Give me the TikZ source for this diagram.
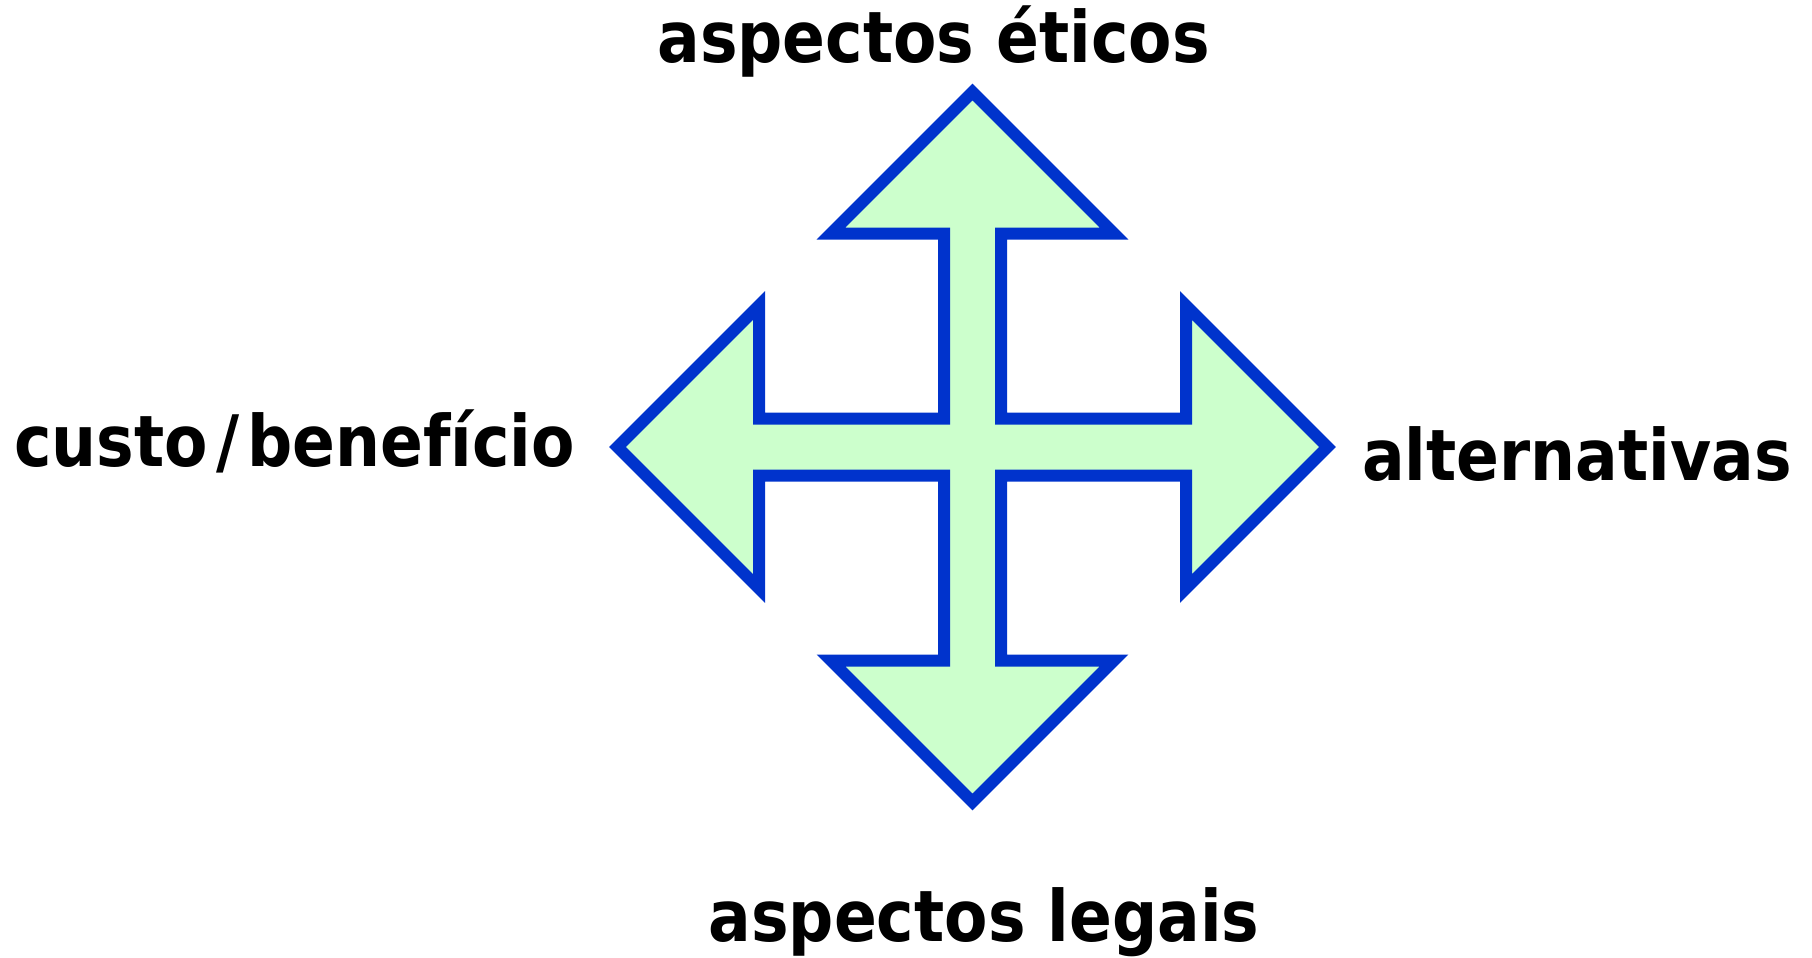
\documentclass[tikz,border=0pt]{standalone}
\usepackage{fontspec}
\setmainfont{DejaVu Sans}[FakeStretch=0.89]
\usetikzlibrary{positioning}
\definecolor{crossblue}{RGB}{0,51,204}
\definecolor{crossgreen}{RGB}{204,255,204}

\begin{document}
\begin{tikzpicture}[
    x=0.5pt, y=-0.5pt,
    heading/.style={font=\bfseries\fontsize{35.5}{40}\selectfont, inner sep=0pt, anchor=base},
    cross/.style={draw=crossblue, fill=crossgreen, line width=6pt, line join=miter}
]
\useasboundingbox (0,0) rectangle (1812,958);

% Four-way arrow
\coordinate (centre) at (972.5,447);
\begin{scope}[shift={(centre)}]
\draw[cross] (0,-355) -- (141.5,-213.5) -- (28.5,-213.5) -- (28.5,-28.5)
    -- (213.5,-28.5) -- (213.5,-141.5) -- (355,0) -- (213.5,141.5)
    -- (213.5,28.5) -- (28.5,28.5) -- (28.5,213.5) -- (141.5,213.5)
    -- (0,355) -- (-141.5,213.5) -- (-28.5,213.5) -- (-28.5,28.5)
    -- (-213.5,28.5) -- (-213.5,141.5) -- (-355,0) -- (-213.5,-141.5)
    -- (-213.5,-28.5) -- (-28.5,-28.5) -- (-28.5,-213.5) -- (-141.5,-213.5)
    -- cycle;
\end{scope}

% Labels
\node[heading] (eticos) at (933.5,62) {aspectos éticos};
\node[heading] (legais) at (984,941) {aspectos legais};
\node[heading, anchor=base west] (custo) at (14,466) {custo\kern4pt/\kern4pt benefício};
\node[heading, anchor=base east] (alternativas) at (1792,480) {alternativas};

\end{tikzpicture}
\end{document}
